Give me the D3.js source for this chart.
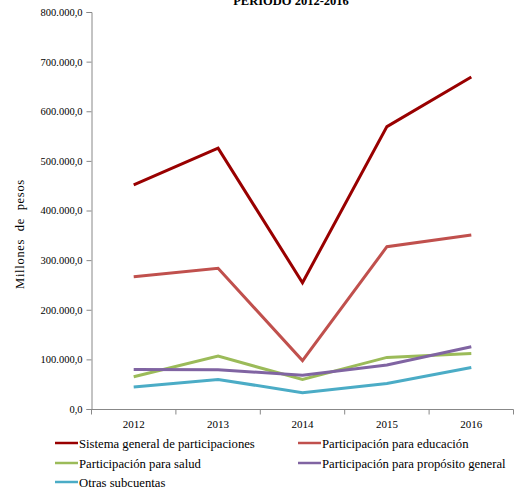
<!DOCTYPE html>
<html><head><meta charset="utf-8">
<script src="https://cdn.jsdelivr.net/npm/d3@7"></script>
<style>body{margin:0;background:#fff}svg{display:block}svg text{font-family:"Liberation Serif","Times New Roman",Times,"DejaVu Serif",serif !important;fill:#000}</style>
</head><body><svg id="c" width="515" height="491"></svg>
<script>
const years = ["2012","2013","2014","2015","2016"];
const seriesNames = ["Sistema general de participaciones","Participación para educación","Participación para salud","Participación para propósito general","Otras subcuentas"];
const sgp = [451500, 525500, 254500, 569000, 669000];
const educacion = [266500, 283500, 97500, 327000, 350500];
const salud = [65000, 106500, 59500, 104000, 112000];
const propositoGeneral = [79500, 79000, 68000, 88500, 125500];
const otras = [44500, 59500, 33000, 51500, 83500];
const yTicks = [0,100000,200000,300000,400000,500000,600000,700000,800000];
const colors = ["#990000","#C0504D","#9BBB59","#8064A2","#4BACC6"];
const data = [sgp, educacion, salud, propositoGeneral, otras];

const svg = d3.select("#c");
const x = d3.scaleBand().domain(years).range([91.5, 513.5]);
const y = d3.scaleLinear().domain([0, 800000]).range([409, 12]);
const fmt = v => d3.format(",.1f")(v).replace(/,/g,"#").replace(/\./g,",").replace(/#/g,".");

// title
svg.append("text").attr("x", 291).attr("y", 5).attr("text-anchor","middle")
  .style("font-weight","bold").style("font-size","12.5px").text("PERIODO 2012-2016");

// y axis
const ya = svg.append("g").attr("transform","translate(91.5,0)")
  .call(d3.axisLeft(y).tickValues(yTicks).tickFormat(fmt).tickSize(5).tickPadding(4));
ya.attr("font-family", null);
ya.selectAll("path,line").attr("stroke","#888");
ya.selectAll("text").style("font-size","10.5px");

// x axis
const xa = svg.append("g").attr("transform","translate(0,409.5)")
  .call(d3.axisBottom(x).tickSize(0).tickPadding(11));
xa.attr("font-family", null);
xa.select("path").attr("stroke","#888").attr("d","M91.5,0H513.5");
xa.selectAll("text").style("font-size","11px");
const xb = x.domain().map(d=>x(d)).concat([x.range()[1]]);
xa.selectAll(".bnd").data(xb).enter().append("line").attr("x1",d=>d).attr("x2",d=>d)
  .attr("y1",0).attr("y2",5).attr("stroke","#888");

// y label
svg.append("text").attr("transform","translate(24,234) rotate(-90)").attr("text-anchor","middle")
  .style("font-size","12.5px").style("letter-spacing","0.7px").style("white-space","pre").text("Millones  de  pesos");

// lines
const line = d3.line().x((d,i)=>x(years[i]) + x.bandwidth()/2).y(d=>y(d));
data.forEach((s,i)=>{
  svg.append("path").datum(s).attr("d", line).attr("fill","none")
    .attr("stroke", colors[i]).attr("stroke-width", 3).attr("stroke-linejoin","miter");
});

// legend
const legPos = [[55,443],[298,443],[55,463],[298,463],[55,482]];
seriesNames.forEach((n,i)=>{
  const [lx,ly] = legPos[i];
  svg.append("line").attr("x1",lx).attr("x2",lx+23).attr("y1",ly).attr("y2",ly)
    .attr("stroke",colors[i]).attr("stroke-width",2.5);
  svg.append("text").attr("x",lx+24).attr("y",ly+4.5).style("font-size","12.7px").text(n);
});
</script></body></html>
